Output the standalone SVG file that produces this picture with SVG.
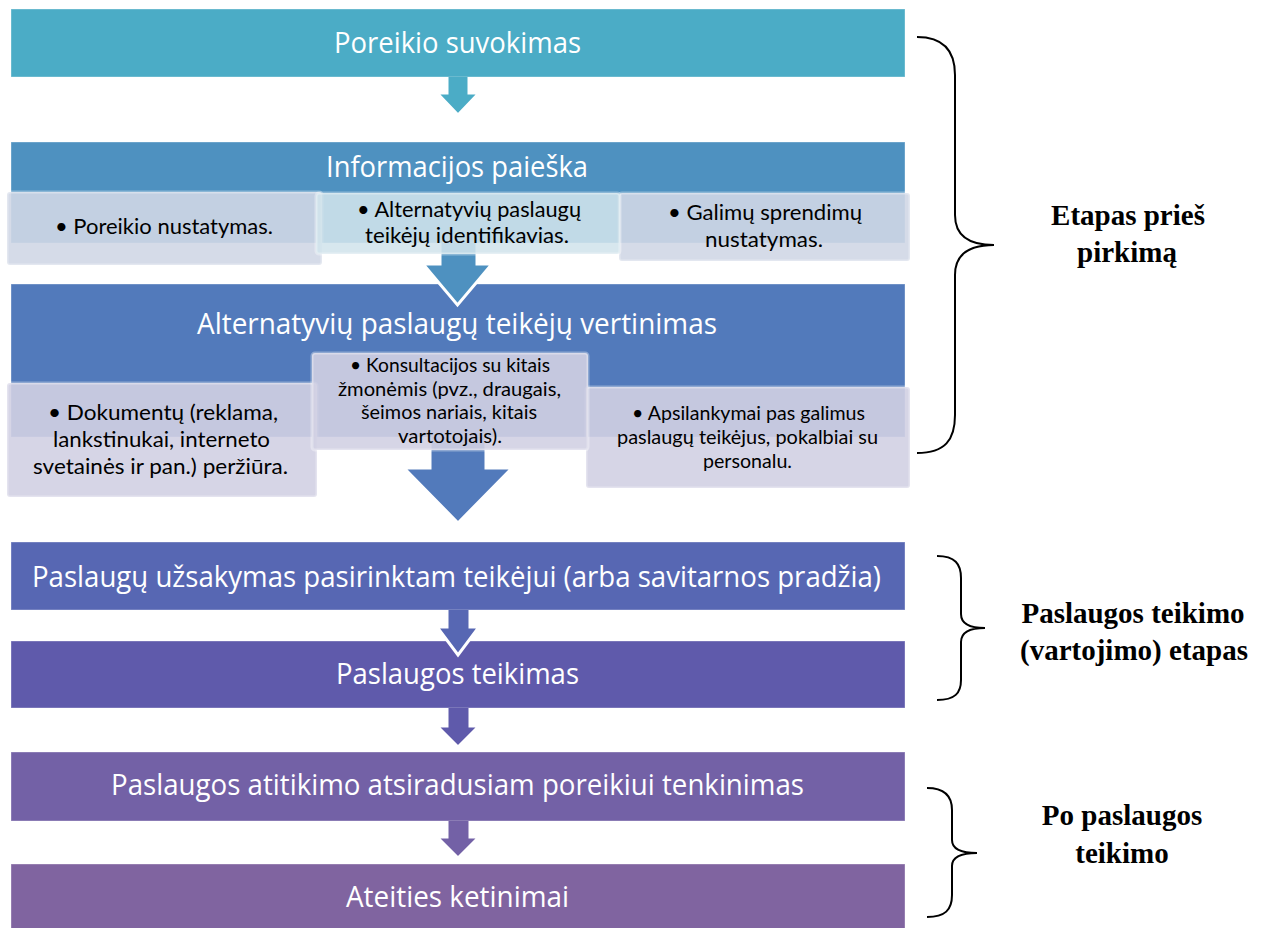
<svg xmlns="http://www.w3.org/2000/svg" width="1268" height="928" viewBox="0 0 1268 928">
<style>
.bar{stroke:#ffffff;stroke-opacity:0.35;stroke-width:1}
.title{font-family:"Open Sans","Liberation Sans",sans-serif;font-size:28.5px;fill:#ffffff;text-anchor:middle}
.sub{font-family:Lato,"Open Sans","Liberation Sans",sans-serif;fill:#000000;text-anchor:middle}
.s1{font-size:21.5px}
.s2{font-size:19.2px}
.boxA{fill:#d0d7e5;fill-opacity:0.9;stroke:#ffffff;stroke-opacity:0.35;stroke-width:3}
.boxC{fill:#d2e4ec;fill-opacity:0.88;stroke:#ffffff;stroke-opacity:0.35;stroke-width:3}
.boxL{fill:#d2d0e3;fill-opacity:0.9;stroke:#ffffff;stroke-opacity:0.35;stroke-width:3}
.arrow{stroke:#ffffff;stroke-width:3;stroke-linejoin:miter}
.brace{fill:none;stroke:#000000;stroke-width:2}
.phase{font-family:"Liberation Serif","Times New Roman",serif;font-weight:bold;font-size:29px;fill:#000000;text-anchor:middle}
</style>
<rect width="1268" height="928" fill="#ffffff"/>
<g id="bars">
<g id="n1"><rect class="bar" x="11" y="9" width="894" height="68" fill="#4bacc6"/></g>
<g id="n2"><rect class="bar" x="11" y="142" width="894" height="101" fill="#4e91c0"/></g>
<g id="n3"><rect class="bar" x="11" y="284" width="894" height="153" fill="#527abb"/></g>
<g id="n4"><rect class="bar" x="11" y="542" width="894" height="68" fill="#5767b3"/></g>
<g id="n5"><rect class="bar" x="11" y="641" width="894" height="67" fill="#5f5aab"/></g>
<g id="n6"><rect class="bar" x="11" y="752" width="894" height="69" fill="#7361a6"/></g>
<g id="n7"><rect class="bar" x="11" y="864" width="894" height="70" fill="#8064a0"/></g>
</g>
<g id="connectors">
<path class="arrow" fill="#4bacc6" d="M447,77 L447,93 L437,93 L458,115 L479,93 L469,93 L469,77"/>
<path class="arrow" fill="#4e91c0" d="M440,243 L440,264 L423,264 L457.5,305 L492,264 L477,264 L477,243"/>
<path class="arrow" fill="#527abb" d="M430,437 L430,468 L404,468 L458,523 L512,468 L486,468 L486,437"/>
<path class="arrow" fill="#5767b3" d="M447,610 L447,627 L437,627 L458,655 L479,627 L470,627 L470,610"/>
<path class="arrow" fill="#5f5aab" d="M447,708 L447,726 L437,726 L458,747 L479,726 L470,726 L470,708"/>
<path class="arrow" fill="#7361a6" d="M447,821 L447,837 L437,837 L458,858 L479,837 L470,837 L470,821"/>
</g>
<g id="titles">
<text class="title" x="457.5" y="53" textLength="247" lengthAdjust="spacingAndGlyphs">Poreikio suvokimas</text>
<text class="title" x="457" y="177" textLength="262" lengthAdjust="spacingAndGlyphs">Informacijos paieška</text>
<text class="title" x="457" y="334" textLength="520" lengthAdjust="spacingAndGlyphs">Alternatyvių paslaugų teikėjų vertinimas</text>
<text class="title" x="456.5" y="587" textLength="849" lengthAdjust="spacingAndGlyphs">Paslaugų užsakymas pasirinktam teikėjui (arba savitarnos pradžia)</text>
<text class="title" x="457.5" y="684" textLength="243" lengthAdjust="spacingAndGlyphs">Paslaugos teikimas</text>
<text class="title" x="457.5" y="795" textLength="693" lengthAdjust="spacingAndGlyphs">Paslaugos atitikimo atsiradusiam poreikiui tenkinimas</text>
<text class="title" x="457.5" y="907" textLength="223" lengthAdjust="spacingAndGlyphs">Ateities ketinimai</text>
</g>
<g id="info-1">
<rect class="boxA" x="7" y="192" width="315" height="73" rx="3"/>
<text class="sub s1" x="164" y="234" textLength="218" lengthAdjust="spacingAndGlyphs">• Poreikio nustatymas.</text>
</g>
<g id="info-3">
<rect class="boxA" x="619" y="193" width="291" height="68" rx="3"/>
<text class="sub s1" x="765" y="220" textLength="194" lengthAdjust="spacingAndGlyphs">• Galimų sprendimų</text>
<text class="sub s1" x="764" y="247" textLength="118" lengthAdjust="spacingAndGlyphs">nustatymas.</text>
</g>
<g id="info-2">
<rect class="boxC" x="316" y="193" width="304" height="61" rx="3"/>
<text class="sub s1" x="469" y="217" textLength="224" lengthAdjust="spacingAndGlyphs">• Alternatyvių paslaugų</text>
<text class="sub s1" x="467" y="243" textLength="204" lengthAdjust="spacingAndGlyphs">teikėjų identifikavias.</text>
</g>
<g id="eval-1">
<rect class="boxL" x="7" y="383" width="310" height="114" rx="3"/>
<text class="sub s1" x="163" y="420" textLength="230" lengthAdjust="spacingAndGlyphs">• Dokumentų (reklama,</text>
<text class="sub s1" x="161.5" y="447" textLength="217" lengthAdjust="spacingAndGlyphs">lankstinukai, interneto</text>
<text class="sub s1" x="160.5" y="474" textLength="255" lengthAdjust="spacingAndGlyphs">svetainės ir pan.) peržiūra.</text>
</g>
<g id="eval-3">
<rect class="boxL" x="586" y="387" width="324" height="101" rx="3"/>
<text class="sub s2" x="748.5" y="420" textLength="233" lengthAdjust="spacingAndGlyphs">• Apsilankymai pas galimus</text>
<text class="sub s2" x="747.5" y="444" textLength="261" lengthAdjust="spacingAndGlyphs">paslaugų teikėjus, pokalbiai su</text>
<text class="sub s2" x="747.5" y="468" textLength="89" lengthAdjust="spacingAndGlyphs">personalu.</text>
</g>
<g id="eval-2">
<rect class="boxL" x="312" y="353" width="276" height="97" rx="3"/>
<text class="sub s2" x="450" y="372" textLength="200" lengthAdjust="spacingAndGlyphs">• Konsultacijos su kitais</text>
<text class="sub s2" x="449.5" y="395.7" textLength="223" lengthAdjust="spacingAndGlyphs">žmonėmis (pvz., draugais,</text>
<text class="sub s2" x="449" y="419.3" textLength="176" lengthAdjust="spacingAndGlyphs">šeimos nariais, kitais</text>
<text class="sub s2" x="450" y="443" textLength="104" lengthAdjust="spacingAndGlyphs">vartotojais).</text>
</g>
<g id="phase-1">
<path class="brace" d="M917,37 C945,37 955,52 955,75 L955,215 C955,235 968,245 994,245 C968,245 955,255 955,275 L955,415 C955,440 945,453 917,453"/>
<text class="phase" x="1128" y="225">Etapas prieš</text>
<text class="phase" x="1127" y="262">pirkimą</text>
</g>
<g id="phase-2">
<path class="brace" d="M937,556 C955,556 961,564 961,578 L961,614 C961,623 968,628 985,628 C968,628 961,633 961,642 L961,680 C961,693 955,700 937,700"/>
<text class="phase" x="1133" y="623">Paslaugos teikimo</text>
<text class="phase" x="1134" y="660">(vartojimo) etapas</text>
</g>
<g id="phase-3">
<path class="brace" d="M927,788 C945,788 952,796 952,810 L952,840 C952,848 960,853 977,853 C960,853 952,858 952,866 L952,895 C952,910 945,917 927,917"/>
<text class="phase" x="1122" y="825">Po paslaugos</text>
<text class="phase" x="1122" y="863">teikimo</text>
</g>
</svg>
